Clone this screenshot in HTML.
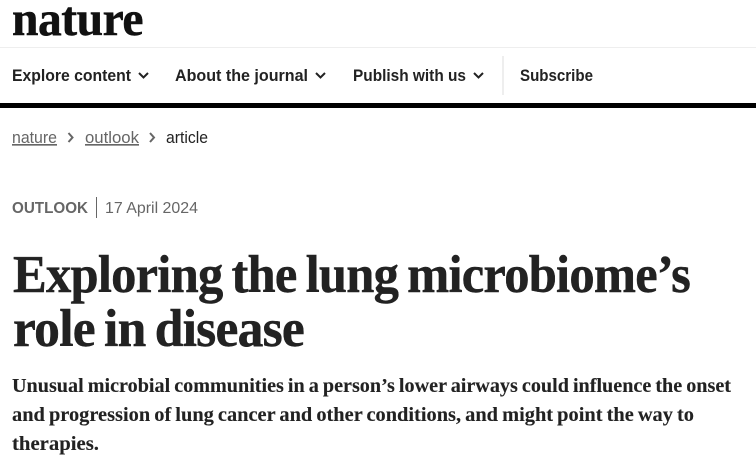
<!DOCTYPE html>
<html lang="en">
<head>
<meta charset="utf-8">
<title>Exploring the lung microbiome's role in disease</title>
<style>
html,body{margin:0;padding:0;width:756px;height:468px;overflow:hidden;background:#fff}
svg{display:block}
.nav{font:bold 16.5px "Liberation Sans",sans-serif;fill:#222}
.crumb{font:16.5px "Liberation Sans",sans-serif;fill:#666}
.title{font:bold 53px "Liberation Serif",serif;fill:#222;stroke:#222;stroke-width:.45px;letter-spacing:-.8px;word-spacing:-3px}
.sub{font:bold 20px "Liberation Serif",serif;fill:#222;stroke:#222;stroke-width:.12px;word-spacing:-1px}
</style>
</head>
<body>
<svg width="756" height="468" viewBox="0 0 756 468">
<text x="12" y="35" font-family="Liberation Serif, serif" font-weight="bold" font-size="49" fill="#111" stroke="#111" stroke-width="0.5" letter-spacing="-0.5" textLength="131" lengthAdjust="spacingAndGlyphs">nature</text>
<rect x="0" y="47" width="756" height="1" fill="#eee"/>

<text class="nav" x="12" y="81" textLength="119" lengthAdjust="spacingAndGlyphs">Explore content</text>
<path d="M139 73l4.500 4.500 4.500-4.500" fill="none" stroke="#222" stroke-width="2"/>
<text class="nav" x="175" y="81" textLength="133" lengthAdjust="spacingAndGlyphs">About the journal</text>
<path d="M316 73l4.500 4.500 4.500-4.500" fill="none" stroke="#222" stroke-width="2"/>
<text class="nav" x="353" y="81" textLength="113" lengthAdjust="spacingAndGlyphs">Publish with us</text>
<path d="M474 73l4.500 4.500 4.500-4.500" fill="none" stroke="#222" stroke-width="2"/>
<rect x="502" y="56" width="2" height="39" fill="#eee"/>
<text class="nav" x="520" y="81" textLength="73" lengthAdjust="spacingAndGlyphs">Subscribe</text>
<rect x="0" y="103" width="756" height="5" fill="#000"/>

<text class="crumb" x="12" y="143" textLength="45" lengthAdjust="spacingAndGlyphs" text-decoration="underline">nature</text>
<path d="M68.500 133l4 4.500-4 4.500" fill="none" stroke="#666" stroke-width="2"/>
<text class="crumb" x="85" y="143" textLength="54" lengthAdjust="spacingAndGlyphs" text-decoration="underline">outlook</text>
<path d="M150 133l4 4.500-4 4.500" fill="none" stroke="#666" stroke-width="2"/>
<text class="crumb" x="166" y="143" textLength="42" lengthAdjust="spacingAndGlyphs" style="fill:#222">article</text>

<text x="12" y="213" font-family="Liberation Sans, sans-serif" font-weight="bold" font-size="15.500" fill="#666" textLength="76" lengthAdjust="spacingAndGlyphs">OUTLOOK</text>
<rect x="96" y="197" width="1" height="21" fill="#666"/>
<text x="105" y="213" font-family="Liberation Sans, sans-serif" font-size="16" fill="#666" textLength="93" lengthAdjust="spacingAndGlyphs">17 April 2024</text>

<text class="title" x="13" y="292" textLength="677" lengthAdjust="spacingAndGlyphs">Exploring the lung microbiome’s</text>
<text class="title" x="13" y="346" textLength="291" lengthAdjust="spacingAndGlyphs">role in disease</text>

<text class="sub" x="12" y="392" textLength="719" lengthAdjust="spacingAndGlyphs">Unusual microbial communities in a person’s lower airways could influence the onset</text>
<text class="sub" x="12" y="421" textLength="682" lengthAdjust="spacingAndGlyphs">and progression of lung cancer and other conditions, and might point the way to</text>
<text class="sub" x="12" y="450" textLength="87" lengthAdjust="spacingAndGlyphs">therapies.</text>
</svg>
</body>
</html>
